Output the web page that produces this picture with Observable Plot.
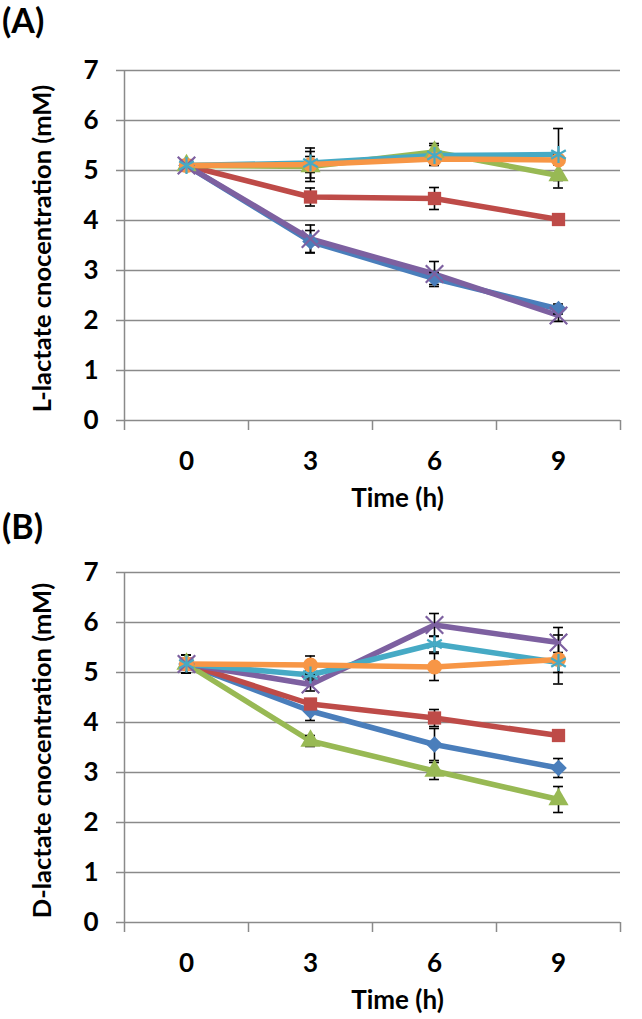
<!DOCTYPE html>
<html><head><meta charset="utf-8">
<script src="https://cdn.jsdelivr.net/npm/d3@7"></script>
<script src="https://cdn.jsdelivr.net/npm/@observablehq/plot@0.6"></script>
<style>
body{margin:0;background:#fff;}
#wrap{position:relative;width:642px;height:1019px;font-family:Lato, "Open Sans", sans-serif;}
.panel{position:absolute;left:0;}
.tag{position:absolute;left:2px;font-weight:bold;font-size:34px;line-height:1;font-family:Lato, sans-serif;color:#000;}
</style></head><body>
<div id="wrap">
  <div class="panel" id="pA" style="top:0"></div>
  <div class="panel" id="pB" style="top:502px"></div>
  <div class="tag" style="top:3px">(A)</div>
  <div class="tag" style="top:509px">(B)</div>
</div>
<script>
// Categories
const times = [0, 3, 6, 9];
const seriesNames = ["S1", "S2", "S3", "S4", "S5", "S6"];
const seriesColors = ["#4A7EBB", "#BE4B48", "#98B954", "#7D60A0", "#46AAC5", "#F79646"];
const seriesSymbols = ["diamond2", "square", "triangle", "times", "asterisk", "circle"];
const yTicks = [0, 1, 2, 3, 4, 5, 6, 7];

// Panel A: L-lactate
const A_S1 = [5.10, 3.58, 2.84, 2.23];
const A_S2 = [5.10, 4.47, 4.44, 4.02];
const A_S3 = [5.10, 5.08, 5.37, 4.90];
const A_S4 = [5.10, 3.63, 2.93, 2.10];
const A_S5 = [5.10, 5.15, 5.30, 5.32];
const A_S6 = [5.10, 5.12, 5.23, 5.21];
const A_E1 = [0.05, 0.22, 0.12, 0.10];
const A_E2 = [0.05, 0.18, 0.22, 0.05];
const A_E3 = [0.05, 0.30, 0.17, 0.25];
const A_E4 = [0.05, 0.28, 0.25, 0.12];
const A_E5 = [0.05, 0.30, 0.20, 0.52];
const A_E6 = [0.05, 0.16, 0.10, 0.10];

// Panel B: D-lactate
const B_S1 = [5.17, 4.23, 3.56, 3.09];
const B_S2 = [5.17, 4.37, 4.09, 3.74];
const B_S3 = [5.17, 3.63, 3.03, 2.46];
const B_S4 = [5.17, 4.76, 5.95, 5.60];
const B_S5 = [5.17, 4.95, 5.57, 5.20];
const B_S6 = [5.17, 5.15, 5.11, 5.26];
const B_E1 = [0.18, 0.19, 0.32, 0.19];
const B_E2 = [0.18, 0.10, 0.17, 0.08];
const B_E3 = [0.18, 0.11, 0.17, 0.26];
const B_E4 = [0.18, 0.13, 0.23, 0.30];
const B_E5 = [0.18, 0.10, 0.16, 0.20];
const B_E6 = [0.18, 0.18, 0.27, 0.49];

const yLabelA = "L-lactate cnocentration (mM)";
const yLabelB = "D-lactate cnocentration (mM)";
const xLabel = "Time (h)";

const step = times[1] - times[0];
const bandEdges = times.map(t => t - step / 2).concat([times[times.length - 1] + step / 2]);

function makePanel(values, errors, ylabel, height) {
  const rows = [];
  seriesNames.forEach((s, i) => {
    times.forEach((t, j) => rows.push({series: s, t, v: values[i][j], e: errors[i][j]}));
  });
  const caps = rows.flatMap(d => [{t: d.t, y: d.v - d.e}, {t: d.t, y: d.v + d.e}]);
  const filled = new Set(["S1", "S2", "S3", "S6"]);
  const font = "Lato, 'Open Sans', sans-serif";
  return Plot.plot({
    width: 642, height,
    marginLeft: 124, marginRight: 22, marginTop: 70, marginBottom: height - 420,
    style: {fontFamily: font, background: "transparent", overflow: "visible"},
    x: {type: "linear", domain: [bandEdges[0], bandEdges[bandEdges.length - 1]]},
    y: {domain: [0, 7]},
    color: {domain: seriesNames, range: seriesColors},
    symbol: {domain: seriesNames, range: seriesSymbols},
    marks: [
      Plot.gridY(yTicks, {stroke: "#8a8a8a", strokeOpacity: 1, strokeWidth: 1.5}),
      Plot.axisY(yTicks, {tickSize: 8, tickPadding: 18, tickFormat: d3.format("d"), stroke: "#8a8a8a", strokeWidth: 1.5, fill: "black", fontSize: 26, fontWeight: "bold", label: null}),
      Plot.axisX(bandEdges, {tickSize: 10, tickFormat: () => "", stroke: "#8a8a8a", strokeWidth: 1.5, label: null}),
      Plot.axisX(times, {tickSize: 0, tickPadding: 31, tickFormat: d3.format("d"), fill: "black", fontSize: 26, fontWeight: "bold", label: null}),
      Plot.ruleX([bandEdges[0]], {stroke: "#8a8a8a", strokeWidth: 1.5}),
      Plot.line(rows, {x: "t", y: "v", z: "series", stroke: "series", strokeWidth: 5.5, strokeLinejoin: "round"}),
      Plot.ruleX(rows, {x: "t", y1: d => d.v - d.e, y2: d => d.v + d.e, stroke: "black", strokeWidth: 1.6}),
      Plot.ruleY(caps, {y: "y", x1: d => d.t - 0.12, x2: d => d.t + 0.12, stroke: "black", strokeWidth: 1.6}),
      Plot.dot(rows.filter(d => filled.has(d.series)), {x: "t", y: "v", symbol: "series", fill: "series", r: 7.5}),
      Plot.dot(rows.filter(d => !filled.has(d.series)), {x: "t", y: "v", symbol: "series", stroke: "series", strokeWidth: 2.2, r: 8}),
      Plot.text([ylabel], {frameAnchor: "left", textAnchor: "middle", rotate: -90, dx: -82, dy: 3, fontSize: 25.5, fontWeight: "bold", fill: "black"}),
      Plot.text([xLabel], {frameAnchor: "bottom", dx: 25, dy: 86, fontSize: 26, fontWeight: "bold", fill: "black"})
    ]
  });
}

document.getElementById("pA").append(makePanel(
  [A_S1, A_S2, A_S3, A_S4, A_S5, A_S6],
  [A_E1, A_E2, A_E3, A_E4, A_E5, A_E6], yLabelA, 502));
document.getElementById("pB").append(makePanel(
  [B_S1, B_S2, B_S3, B_S4, B_S5, B_S6],
  [B_E1, B_E2, B_E3, B_E4, B_E5, B_E6], yLabelB, 517));
</script>
</body></html>
